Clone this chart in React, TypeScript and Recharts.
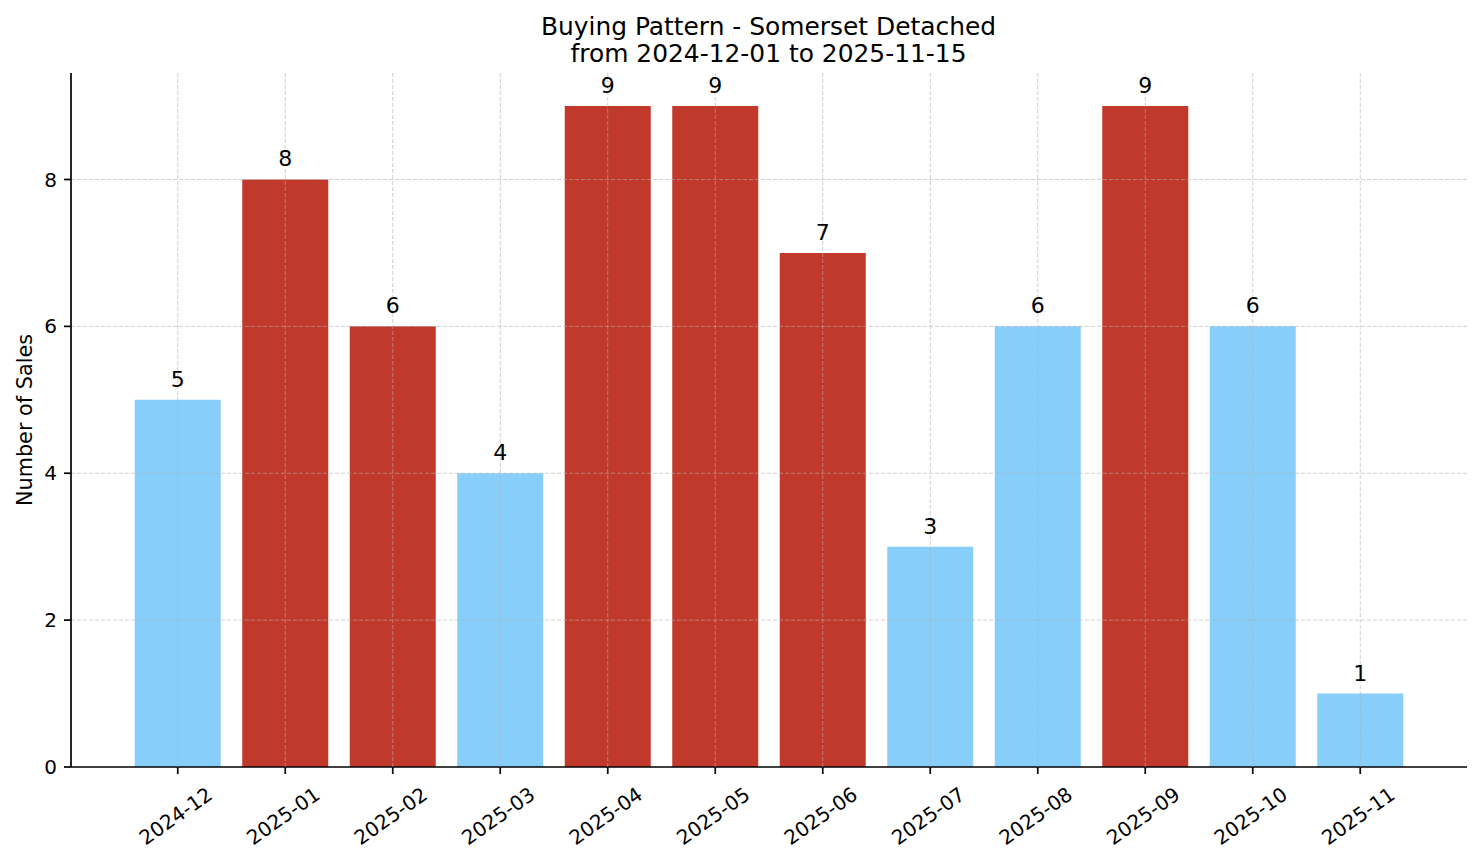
import { Bar, BarChart, CartesianGrid, Cell, LabelList, ReferenceLine, XAxis, YAxis } from "recharts"

const months = [
  "2024-12", "2025-01", "2025-02", "2025-03", "2025-04", "2025-05",
  "2025-06", "2025-07", "2025-08", "2025-09", "2025-10", "2025-11",
]
const sales = [5, 8, 6, 4, 9, 9, 7, 3, 6, 9, 6, 1]
const highlighted = [false, true, true, false, true, true, true, false, false, true, false, false]
const yTicks = [0, 2, 4, 6, 8]

const titleLines = ["Buying Pattern - Somerset Detached", "from 2024-12-01 to 2025-11-15"]
const yLabel = "Number of Sales"

const data = months.map((month, i) => ({ month, sales: sales[i], highlighted: highlighted[i] }))

const FONT = "DejaVu Sans, sans-serif"
const RED = "#C0392B"
const BLUE = "#87CEFA"
const GRID = { stroke: "#b0b0b0", strokeOpacity: 0.6, strokeDasharray: "4 2" }

function MonthTick({ x, y, payload }: any) {
  const cx = x - 2
  const cy = y + 40
  return (
    <text
      x={cx}
      y={cy}
      textAnchor="middle"
      dominantBaseline="central"
      fontSize={20}
      fontFamily={FONT}
      fill="#000"
      transform={`rotate(-35, ${cx}, ${cy})`}
    >
      {payload.value}
    </text>
  )
}

function ValueLabel({ x, y, width, value }: any) {
  return (
    <text x={x + width / 2} y={y - 13} textAnchor="middle" fontSize={22} fontFamily={FONT} fill="#000">
      {value}
    </text>
  )
}

export default function App() {
  return (
    <div style={{ position: "absolute", left: 0, top: 0, width: 1481, height: 863, background: "#fff" }}>
      <BarChart
        width={1481}
        height={863}
        data={data}
        margin={{ top: 73, right: 14, bottom: 0, left: 0 }}
        barCategoryGap="10%"
      >
        <XAxis
          dataKey="month"
          height={96}
          padding={{ left: 53, right: 53 }}
          tick={<MonthTick />}
          tickSize={7}
          axisLine={{ stroke: "#000", strokeWidth: 1.7 }}
          tickLine={{ stroke: "#000", strokeWidth: 1.7 }}
          interval={0}
        />
        <YAxis
          domain={[0, 9.45]}
          ticks={yTicks}
          tickSize={7}
          tickMargin={7}
          width={71}
          axisLine={{ stroke: "#000", strokeWidth: 1.7 }}
          tickLine={{ stroke: "#000", strokeWidth: 1.7 }}
          tick={{ fontSize: 20, fontFamily: FONT, fill: "#000" }}
        />
        <Bar dataKey="sales" isAnimationActive={false}>
          {data.map((d, i) => (
            <Cell key={`cell-${i}`} fill={d.highlighted ? RED : BLUE} />
          ))}
          <LabelList dataKey="sales" content={<ValueLabel />} />
        </Bar>
        <CartesianGrid {...GRID} horizontal={false} syncWithTicks zIndex={500} />
        {yTicks
          .filter((t) => t > 0)
          .map((t) => (
            <ReferenceLine key={t} y={t} {...GRID} />
          ))}
      </BarChart>
      <svg
        width={1481}
        height={863}
        style={{ position: "absolute", left: 0, top: 0, pointerEvents: "none" }}
      >
        {titleLines.map((line, i) => (
          <text key={line} x={768.5} y={35 + i * 27} textAnchor="middle" fontSize={24.9} fontFamily={FONT} fill="#000">
            {line}
          </text>
        ))}
        <text
          x={32}
          y={420}
          textAnchor="middle"
          fontSize={20.8}
          fontFamily={FONT}
          fill="#000"
          transform="rotate(-90, 32, 420)"
        >
          {yLabel}
        </text>
      </svg>
    </div>
  )
}
